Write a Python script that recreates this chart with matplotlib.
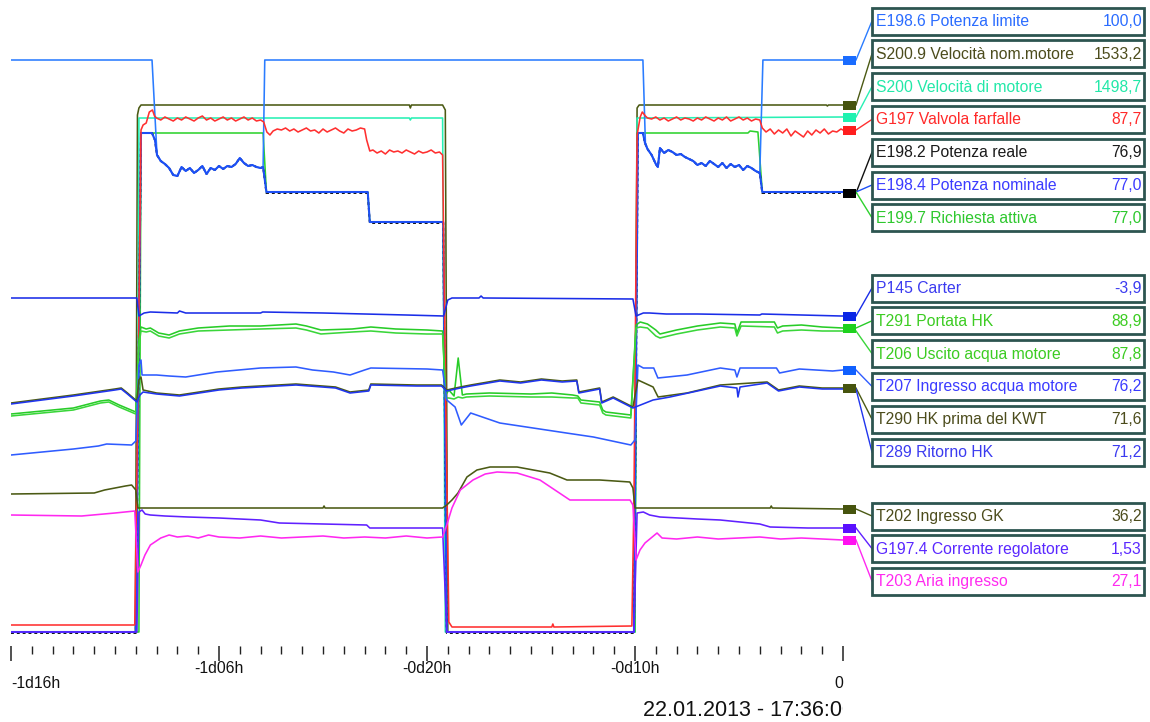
import matplotlib
matplotlib.use("Agg")
import matplotlib.pyplot as plt
from matplotlib.patches import Rectangle
from matplotlib.ticker import FixedLocator, MultipleLocator

plt.rcParams['font.family'] = ['Liberation Sans', 'DejaVu Sans']

# time = hours before 22.01.2013 17:36, value = trace position on the strip (0 top, 640 bottom)

# noisy stretches shared by the power limit, nominal and real power
p1_noise_t = [-32.8, -32.6, -32.4, -32.2, -32.0, -31.8, -31.6, -31.4, -31.2, -31.0, -30.8, -30.6, -30.4,
              -30.2, -30.0, -29.8, -29.6, -29.4, -29.2, -29.0, -28.8, -28.6, -28.4, -28.2, -28.0]
p1_noise_y = [161, 164, 168, 175, 176, 167, 171, 168, 173, 170, 166, 174, 168,
              170, 166, 169, 166, 167, 164, 158, 163, 166, 165, 167, 168]
p2_noise_t = [-9.4, -9.2, -9.0, -8.9, -8.8, -8.6, -8.4, -8.2, -8.0, -7.8, -7.6, -7.4, -7.2, -7.0, -6.8,
              -6.6, -6.4, -6.2, -6.0, -5.8, -5.6, -5.4, -5.2, -5.0, -4.8, -4.6, -4.4, -4.2, -4.0]
p2_noise_y = [149, 155, 164, 167, 148, 153, 150, 152, 155, 154, 157, 159, 161, 165, 163,
              166, 161, 164, 167, 163, 168, 164, 167, 165, 170, 166, 168, 171, 173]

# E198.6 Potenza limite
limit_t = [-40, -33.22, -32.98] + p1_noise_t + [-27.88, -27.8, -9.62, -9.5] + p2_noise_t + [-3.85, 0]
limit_y = [60, 60, 155] + p1_noise_y + [167, 60, 60, 143] + p2_noise_y + [60, 60]

# E198.4 Potenza nominale
nominal_t = ([-40, -34.0, -33.75, -33.22, -33.08, -32.98] + p1_noise_t +
             [-27.88, -27.72, -22.85, -22.75, -19.22, -19.05, -10.05, -9.86, -9.62, -9.52] +
             p2_noise_t + [-3.88, 0])
nominal_y = ([632, 632, 133, 133, 140, 155] + p1_noise_y +
             [167, 192, 192, 222, 222, 632, 632, 133, 133, 143] + p2_noise_y + [192, 192])

# E198.2 Potenza reale
actual_t = ([-40, -34.0, -33.75, -33.22, -33.08, -32.98] + p1_noise_t +
            [-27.88, -27.72, -22.85, -22.75, -19.22, -19.05, -10.05, -9.86, -9.62, -9.52] +
            p2_noise_t + [-3.88, 0])
actual_y = ([633, 633, 133, 133, 140, 155] + p1_noise_y +
            [167, 193, 193, 223, 223, 633, 633, 133, 133, 143] + p2_noise_y + [193, 193])

# E199.7 Richiesta attiva
request_t = [-40, -33.85, -33.75, -27.88, -27.72, -22.85, -22.75, -19.22, -19.05, -10.0, -9.9,
             -4.57, -4.47, -4.09, -3.88, 0]
request_y = [632, 632, 133, 133, 192, 192, 222, 222, 632, 632, 133, 133, 131, 132, 192, 192]

# S200.9 Velocita nom. motore
speed_nom_t = [-40, -34.02, -33.92, -33.85, -33.75, -20.85, -20.8, -20.75, -19.25, -19.12, -19.0,
               -10.05, -9.9, -9.8, -0.8, -0.75, -0.7, 0]
speed_nom_y = [632, 632, 115, 108, 105, 105, 108, 105, 105, 110, 632, 632, 108, 105, 105, 106, 105, 105]

# S200 Velocita di motore
speed_t = [-40, -33.95, -33.85, -20.85, -20.8, -20.75, -19.25, -19.12, -10.0, -9.9, 0]
speed_y = [632, 632, 118, 118, 120, 118, 118, 632, 632, 118, 117]

# G197 Valvola farfalle
valve_t = [-40, -34.05, -33.9, -33.75, -33.65, -33.5, -33.35, -33.2, -33.1,
           -33.0, -32.8, -32.6, -32.4, -32.2, -32.0, -31.8, -31.6, -31.4, -31.2, -31.0, -30.8, -30.6,
           -30.4, -30.2, -30.0, -29.8, -29.6, -29.4, -29.2, -29.0, -28.8, -28.6, -28.4, -28.2, -28.0,
           -27.85, -27.7, -27.55,
           -27.4, -27.2, -27.0, -26.8, -26.6, -26.4, -26.2, -26.0, -25.8, -25.6, -25.4, -25.2, -25.0,
           -24.8, -24.6, -24.4, -24.2, -24.0, -23.8, -23.6, -23.4, -23.2, -23.0,
           -22.9, -22.75,
           -22.6, -22.4, -22.2, -22.0, -21.8, -21.6, -21.4, -21.2, -21.0, -20.8, -20.6, -20.4, -20.2,
           -20.0, -19.8, -19.6, -19.4,
           -19.25, -19.1, -18.95, -18.8, -14.0, -13.95, -13.9, -10.15,
           -10.05, -9.9, -9.75, -9.65, -9.5, -9.4,
           -9.2, -9.0, -8.8, -8.6, -8.4, -8.2, -8.0, -7.8, -7.6, -7.4, -7.2, -7.0, -6.8, -6.6, -6.4,
           -6.2, -6.0, -5.8, -5.6, -5.4, -5.2, -5.0, -4.8, -4.6, -4.4, -4.2, -4.0,
           -3.88,
           -3.7, -3.5, -3.3, -3.1, -2.9, -2.7, -2.5, -2.3, -2.1, -1.9, -1.7, -1.5, -1.3, -1.1, -0.9,
           -0.7, -0.5, -0.3, -0.1, 0.0]
valve_y = [625, 625, 400, 130, 125, 123, 112, 110, 116,
           118, 120, 117, 119, 121, 118, 120, 117, 119, 121, 118, 116, 120,
           118, 121, 119, 117, 120, 118, 121, 119, 117, 120, 118, 121, 120,
           122, 132, 135,
           131, 129, 130, 128, 131, 129, 132, 130, 128, 131, 130, 133, 129,
           132, 130, 128, 131, 133, 129, 131, 130, 128, 129,
           140, 151,
           150, 153, 151, 154, 150, 152, 151, 153, 150, 152, 154, 151, 153,
           152, 150, 153, 152,
           155, 400, 622, 627, 627, 624, 627, 626,
           500, 135, 117, 112, 116, 118,
           119, 117, 120, 118, 121, 119, 117, 120, 118, 119, 121, 118, 120, 117, 119,
           121, 118, 120, 117, 121, 119, 117, 120, 118, 121, 119, 120,
           128,
           132, 129, 134, 130, 133, 129, 136, 131, 134, 137, 131, 135, 130, 133, 129,
           134, 131, 132, 129, 130]

# P145 Carter
carter_t = [-40, -33.95, -33.85, -33.6, -33.3, -32.0, -31.9, -31.6, -30.0, -28.0, -27.9, -25.0, -23.0,
            -21.0, -19.2, -19.0, -18.8, -17.5, -17.4, -17.3, -17.2, -10.1, -9.95, -9.6, -9.3, -8.5,
            -7.0, -4.0, -3.9, -0.1, 0]
carter_y = [298, 298, 316, 313, 312, 313, 311, 313, 313, 313, 312, 313, 314,
            315, 316, 300, 298, 298, 296, 298, 298, 299, 316, 313, 313, 314,
            314, 315, 314, 316, 316]

# T291 Portata HK / T206 Uscito acqua motore
flow_t = [-40, -37.0, -35.7, -35.3, -34.8, -34.0, -33.85, -33.75, -33.5, -33.3, -32.9, -32.4, -31.9,
          -31.0, -29.5, -28.0, -26.3, -25.8, -25.1, -23.6, -22.7, -21.5, -20.0, -19.25, -19.1, -18.95,
          -18.7, -18.5, -18.3, -18.1, -17.0, -15.0, -14.0, -13.0, -12.75, -12.6, -11.7, -11.55, -11.4,
          -10.2, -9.95, -9.75, -9.4, -9.0, -8.8, -8.0, -7.0, -5.9, -5.2, -5.1, -4.9, -3.3, -3.15,
          -2.9, -2.0, -1.0, 0]
flow_y = [414, 408, 401, 400, 405, 412, 340, 327, 329, 328, 333, 335, 331,
          328, 326, 326, 324, 326, 330, 329, 327, 329, 330, 331, 395, 390,
          396, 358, 395, 394, 393, 394, 393, 395, 396, 400, 402, 410, 412,
          415, 325, 322, 324, 330, 334, 330, 326, 323, 324, 333, 322, 322, 328,
          326, 325, 327, 328]
outlet_t = [-40, -37.0, -35.7, -35.3, -34.8, -34.0, -33.85, -33.75, -33.5, -33.3, -32.9, -32.4, -31.9,
            -31.0, -29.5, -28.0, -26.3, -25.8, -25.1, -23.6, -22.7, -21.5, -20.0, -19.25, -19.1, -18.95,
            -18.7, -18.5, -18.3, -18.1, -17.0, -15.0, -14.0, -13.0, -12.75, -12.6, -11.7, -11.55, -11.4,
            -10.2, -9.95, -9.75, -9.4, -9.0, -8.8, -8.0, -7.0, -5.9, -5.2, -5.1, -4.9, -3.3, -3.15,
            -2.9, -2.0, -1.0, 0]
outlet_y = [416, 410, 403, 402, 407, 414, 345, 331, 332, 331, 336, 338, 334,
            331, 330, 329, 328, 330, 334, 332, 331, 333, 334, 334, 398, 398,
            399, 397, 398, 397, 396, 397, 397, 398, 398, 403, 405, 413, 415,
            418, 328, 327, 328, 336, 338, 334, 330, 327, 328, 336, 326, 327, 333,
            331, 330, 331, 331]

# T207 Ingresso acqua motore
inlet_t = [-40, -37.0, -35.8, -35.4, -34.2, -34.0, -33.85, -33.75, -33.7, -33.0, -32.4, -31.6, -30.1,
           -28.0, -26.3, -25.5, -24.5, -23.7, -23.0, -22.7, -20.0, -19.25, -19.05, -18.65, -18.35,
           -17.9, -16.5, -13.3, -12.0, -10.2, -10.0, -9.86, -9.6, -9.1, -8.9, -7.5, -5.9, -5.2, -5.1,
           -4.95, -3.2, -3.05, -2.1, -0.5, 0]
inlet_y = [455, 449, 446, 444, 445, 441, 365, 360, 375, 375, 376, 377, 372,
           368, 367, 370, 372, 375, 370, 368, 369, 370, 400, 407, 425,
           413, 423, 433, 437, 445, 440, 365, 368, 368, 378, 375, 368, 370, 377,
           368, 368, 373, 369, 371, 370]

# T290 HK prima del KWT
kwt_t = [-40, -37.0, -35.0, -34.7, -34.4, -33.95, -33.85, -33.75, -33.65, -33.0, -31.9, -30.0, -28.9,
         -26.3, -24.4, -23.7, -22.8, -22.7, -20.5, -19.3, -19.05, -18.4, -17.9, -16.5, -15.5, -14.5,
         -13.5, -12.8, -12.7, -11.7, -11.6, -11.05, -10.1, -9.86, -9.13, -8.89, -7.5, -5.9, -3.65,
         -3.1, -2.1, -1.0, 0]
kwt_y = [403, 395, 389, 388, 393, 401, 380, 377, 390, 393, 395, 389, 387,
         384, 387, 392, 390, 384, 385, 385, 390, 387, 385, 380, 382, 379,
         381, 380, 392, 388, 402, 397, 407, 380, 387, 397, 393, 385, 382,
         390, 386, 388, 388]

# T289 Ritorno HK
return_t = [-40, -37.0, -35.0, -34.7, -34.4, -33.95, -33.8, -33.65, -33.0, -31.9, -30.0, -28.9, -26.3,
            -24.4, -23.7, -22.8, -22.7, -20.5, -19.3, -19.05, -18.4, -17.9, -16.5, -15.5, -14.5, -13.5,
            -12.8, -12.7, -11.7, -11.6, -11.05, -10.1, -9.13, -8.32, -5.9, -5.1, -5.05, -4.95, -3.65,
            -3.1, -2.1, -1.0, 0]
return_y = [404, 396, 390, 389, 394, 402, 395, 392, 394, 396, 390, 388, 385,
            388, 393, 391, 385, 386, 386, 391, 388, 386, 381, 383, 380, 382,
            381, 393, 389, 403, 398, 408, 400, 397, 386, 388, 397, 387, 383,
            391, 387, 389, 389]

# T202 Ingresso GK
gk_t = [-40, -36.0, -35.5, -34.5, -34.2, -34.0, -33.9, -25.0, -24.95, -24.9, -19.25, -19.05, -18.8,
        -18.51, -18.08, -17.6, -16.97, -15.67, -14.1, -13.27, -11.7, -10.25, -10.1, -10.0, -3.5,
        -3.45, -3.4, 0]
gk_y = [494, 493, 490, 486, 485, 490, 508, 508, 506, 508, 508, 505, 500,
        493, 477, 470, 467, 467, 473, 480, 480, 482, 488, 508, 508,
        506, 508, 509]

# G197.4 Corrente regolatore
current_t = [-40, -33.95, -33.85, -33.7, -33.55, -33.3, -32.6, -31.5, -30.0, -28.0, -27.1, -25.0, -22.9,
             -22.75, -19.25, -19.05, -10.05, -9.9, -9.6, -9.3, -8.8, -7.0, -5.9, -4.0, -3.5, -1.7, 0]
current_y = [632, 632, 512, 510, 514, 515, 516, 517, 518, 520, 523, 524, 525,
             528, 528, 632, 632, 513, 512, 515, 517, 519, 520, 524, 527, 528, 528]

# T203 Aria ingresso
air_t = [-40, -36.6, -35.0, -34.05, -33.9, -33.75, -33.56, -33.3, -32.8, -32.4, -32.0, -31.5, -31.0,
         -30.5, -30.0, -29.0, -28.0, -27.0, -26.0, -25.0, -24.0, -23.0, -22.0, -21.0, -20.0, -19.25,
         -19.05, -18.8, -18.4, -17.79, -17.2, -16.63, -15.67, -14.57, -13.13, -10.24, -10.1, -9.95,
         -9.76, -9.52, -8.94, -8.7, -8.0, -7.0, -6.0, -5.0, -4.0, -3.0, -2.0, -1.0, 0]
air_y = [515, 516, 513, 511, 572, 565, 555, 545, 538, 535, 537, 536, 538,
         535, 537, 538, 536, 538, 537, 536, 538, 537, 538, 536, 538, 537,
         525, 508, 490, 480, 474, 472, 473, 480, 500, 500, 505, 560,
         550, 543, 533, 538, 539, 537, 539, 538, 537, 539, 538, 539, 540]

labels = ["E198.6 Potenza limite", "S200.9 Velocità nom.motore", "S200 Velocità di motore",
          "G197 Valvola farfalle", "E198.2 Potenza reale", "E198.4 Potenza nominale",
          "E199.7 Richiesta attiva", "P145 Carter", "T291 Portata HK", "T206 Uscito acqua motore",
          "T207 Ingresso acqua motore", "T290 HK prima del KWT", "T289 Ritorno HK",
          "T202 Ingresso GK", "G197.4 Corrente regolatore", "T203 Aria ingresso"]
values = ["100,0", "1533,2", "1498,7", "87,7", "76,9", "77,0", "77,0", "-3,9", "88,9", "87,8",
          "76,2", "71,6", "71,2", "36,2", "1,53", "27,1"]

olive = '#4b5a14'
# (times, values, line colour, text colour, marker colour) in legend order
rows = [
    (limit_t, limit_y, '#2a7cff', '#2a6cff', '#1a6cff'),
    (speed_nom_t, speed_nom_y, olive, '#4c4c1c', '#46540e'),
    (speed_t, speed_y, '#28f0b4', '#22e8a8', '#1ef2b0'),
    (valve_t, valve_y, '#ff3030', '#ff2a2a', '#ff1e1e'),
    (actual_t, actual_y, '#101010', '#1a1a1a', '#000000'),
    (nominal_t, nominal_y, '#1d4ff5', '#3b3bff', None),
    (request_t, request_y, '#2ed22e', '#2ec82e', None),
    (carter_t, carter_y, '#1a2de8', '#3b3bf0', '#0a26e6'),
    (flow_t, flow_y, '#28cc28', '#3ccc22', '#1ed21e'),
    (outlet_t, outlet_y, '#3ad63a', '#3ccc22', None),
    (inlet_t, inlet_y, '#2f5cff', '#3b3bff', '#1060ff'),
    (kwt_t, kwt_y, olive, '#4c4c1c', '#46540e'),
    (return_t, return_y, '#2035ee', '#3b3bf0', None),
    (gk_t, gk_y, olive, '#4c4c1c', '#46540e'),
    (current_t, current_y, '#6020ff', '#5a28ff', '#5a10ff'),
    (air_t, air_y, '#ff28f0', '#ff2af0', '#ff10f0'),
]

fig = plt.figure(figsize=(11.5, 7.22), dpi=100)
ax = fig.add_axes([11 / 1150, 82 / 722, 832 / 1150, 640 / 722])
ax.set_xlim(-40, 0)
ax.set_ylim(640, 0)

# drawing order: bottom traces first, the noisy blue power on top
draw_order = [1, 2, 6, 4, 0, 5, 3, 7, 8, 9, 10, 11, 12, 13, 14, 15]
for i in draw_order:
    t, y, lc = rows[i][0], rows[i][1], rows[i][2]
    if i == 4:
        ax.plot(t, y, color=lc, lw=1.4, ls=(0, (1.5, 1.5)))
    elif i == 5:
        ax.plot(t, y, color=lc, lw=1.5)
    else:
        ax.plot(t, y, color=lc, lw=1.15)

for s in ax.spines.values():
    s.set_visible(False)
ax.spines['bottom'].set_position(('outward', 4))
ax.set_yticks([])
ax.xaxis.set_major_locator(FixedLocator([-40, -30, -20, -10, 0]))
ax.xaxis.set_minor_locator(MultipleLocator(1))
ax.set_xticklabels(["", "-1d06h", "-0d20h", "-0d10h", ""])
ax.tick_params(axis='x', which='major', length=10.5, width=1.1, color='#222222',
               labelsize=11.3, pad=0.5, labelcolor='#111111')
ax.tick_params(axis='x', which='minor', length=5.5, width=1.0, color='#222222')
fig.text(11 / 1150, (722 - 684) / 722, "-1d16h", ha='left', va='center', fontsize=11.3, color='#111111')
fig.text(843 / 1150, (722 - 684) / 722, "0", ha='right', va='center', fontsize=11.3, color='#111111')

# timestamp, cut at the right edge of the time axis like the original
ax_date = fig.add_axes([0, 0, 843 / 1150, 40 / 722])
ax_date.axis('off')
ax_date.text(643 / 843, 0.3, "22.01.2013 - 17:36:00", ha='left', va='center', fontsize=15.5,
             color='#111111', clip_on=True)

# end markers, connectors and the value boxes
ov = fig.add_axes([0, 0, 1, 1])
ov.set_xlim(0, 1150)
ov.set_ylim(722, 0)
ov.axis('off')

label_y = ([21 + 32.8 * k for k in range(7)] + [288 + 32.8 * k for k in range(6)] +
           [516 + 32.6 * k for k in range(3)])

for i, (t, y, lc, tc, mc) in enumerate(rows):
    ly = label_y[i]
    ov.plot([856, 872], [y[-1], ly], color=lc, lw=1.0)
for i, (t, y, lc, tc, mc) in enumerate(rows):
    if mc is not None:
        ov.add_patch(Rectangle((843, y[-1] - 4.5), 13, 9, facecolor=mc, edgecolor='none', zorder=3))

for i, (t, y, lc, tc, mc) in enumerate(rows):
    ly = label_y[i]
    ov.add_patch(Rectangle((872, ly - 13.5), 272, 27, facecolor='white', edgecolor='#2d5550',
                           lw=2.0, zorder=4))
    ov.text(876, ly + 0.5, labels[i], ha='left', va='center', fontsize=11.3, color=tc, zorder=5)
    ov.text(1142, ly + 0.5, values[i], ha='right', va='center', fontsize=11.3, color=tc, zorder=5)

fig.savefig('out.png', dpi=100)
